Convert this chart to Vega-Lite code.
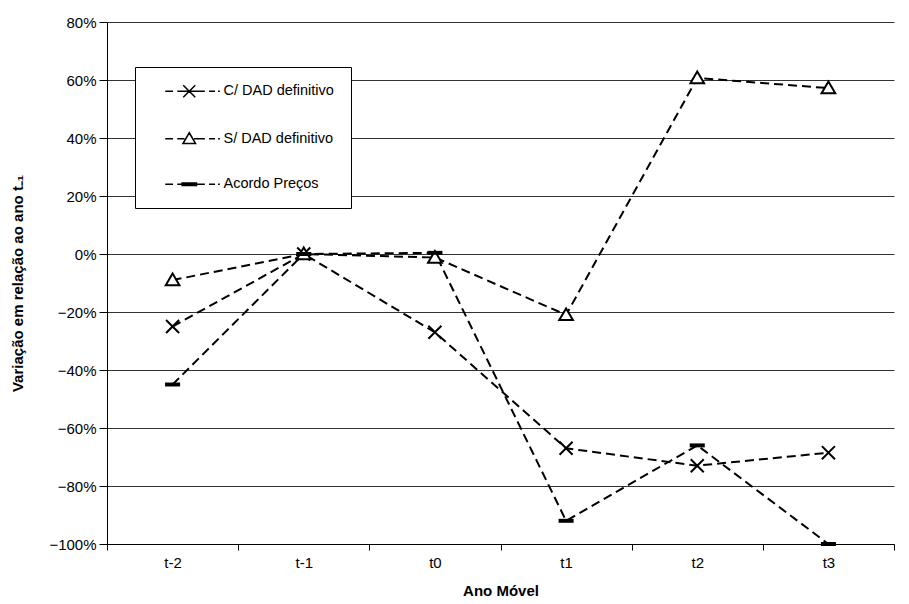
{
  "$schema": "https://vega.github.io/schema/vega-lite/v6.json",
  "width": 787,
  "height": 522,
  "autosize": {"type": "none"},
  "padding": {"left": 107, "top": 22, "right": 15, "bottom": 60},
  "background": "white",
  "config": {
    "view": {"stroke": null},
    "font": "Liberation Sans",
    "axis": {"labelFont": "Liberation Sans", "titleFont": "Liberation Sans", "labelColor": "black", "titleColor": "black", "domainColor": "black", "tickColor": "black"}
  },
  "data": {
    "values": [
      {"ano": "t-2", "serie": "C/ DAD definitivo", "valor": -0.25},
      {"ano": "t-1", "serie": "C/ DAD definitivo", "valor": 0.0},
      {"ano": "t0", "serie": "C/ DAD definitivo", "valor": -0.27},
      {"ano": "t1", "serie": "C/ DAD definitivo", "valor": -0.67},
      {"ano": "t2", "serie": "C/ DAD definitivo", "valor": -0.73},
      {"ano": "t3", "serie": "C/ DAD definitivo", "valor": -0.685},
      {"ano": "t-2", "serie": "S/ DAD definitivo", "valor": -0.09},
      {"ano": "t-1", "serie": "S/ DAD definitivo", "valor": 0.0},
      {"ano": "t0", "serie": "S/ DAD definitivo", "valor": -0.012},
      {"ano": "t1", "serie": "S/ DAD definitivo", "valor": -0.21},
      {"ano": "t2", "serie": "S/ DAD definitivo", "valor": 0.607},
      {"ano": "t3", "serie": "S/ DAD definitivo", "valor": 0.572},
      {"ano": "t-2", "serie": "Acordo Preços", "valor": -0.45},
      {"ano": "t-1", "serie": "Acordo Preços", "valor": 0.0},
      {"ano": "t0", "serie": "Acordo Preços", "valor": 0.004},
      {"ano": "t1", "serie": "Acordo Preços", "valor": -0.92},
      {"ano": "t2", "serie": "Acordo Preços", "valor": -0.66},
      {"ano": "t3", "serie": "Acordo Preços", "valor": -1.0}
    ]
  },
  "encoding": {
    "x": {
      "field": "ano", "type": "nominal", "sort": ["t-2", "t-1", "t0", "t1", "t2", "t3"],
      "scale": {"type": "band", "paddingInner": 0, "paddingOuter": 0},
      "axis": {"title": "Ano Móvel", "labelAngle": 0, "tickBand": "extent", "tickSize": 6, "labelPadding": 5, "labelFontSize": 15, "titleFontSize": 15, "titleFontWeight": "bold", "titlePadding": 13, "grid": false}
    },
    "y": {
      "field": "valor", "type": "quantitative",
      "scale": {"domain": [-1, 0.8], "nice": false, "zero": false},
      "axis": {"title": "Variação em relação ao ano t₋₁", "format": ".0%", "values": [-1, -0.8, -0.6, -0.4, -0.2, 0, 0.2, 0.4, 0.6, 0.8], "grid": true, "gridColor": "#333", "gridWidth": 1, "tickSize": 8, "labelPadding": 3, "labelFontSize": 15, "titleFontSize": 15, "titleFontWeight": "bold", "titlePadding": 23}
    }
  },
  "layer": [
    {
      "mark": {"type": "line", "color": "black", "strokeWidth": 2, "strokeDash": [9, 5]},
      "encoding": {"detail": {"field": "serie", "type": "nominal"}}
    },
    {
      "mark": {"type": "point", "color": "black", "stroke": "black", "fill": "white", "fillOpacity": 1, "strokeWidth": 2, "size": 170, "opacity": 1},
      "encoding": {
        "shape": {
          "field": "serie", "type": "nominal",
          "scale": {"domain": ["C/ DAD definitivo", "S/ DAD definitivo", "Acordo Preços"], "range": ["M-1,-1L1,1M-1,1L1,-1", "M0,-1L1.05,0.8H-1.05Z", "M-1,-0.15H1V0.15H-1Z"]},
          "legend": null
        }
      }
    },
    {
      "mark": {"type": "point", "color": "black", "filled": false, "opacity": 0, "size": 144},
      "encoding": {
        "shape": {
          "field": "serie", "type": "nominal",
          "scale": {"domain": ["C/ DAD definitivo", "S/ DAD definitivo", "Acordo Preços"], "range": [
            "M-4,0H-2.7M-2,0H2.6M3.3,0H4.3M4.8,0H5.1M-1,-1L1,1M-1,1L1,-1",
            "M-4,0H-2.7M-2,0H-0.8M0.8,0H2.6M3.3,0H4.3M4.8,0H5.1M0,-1L1.05,0.8H-1.05Z",
            "M-4,0H-2.7M-2,0H2.6M3.3,0H4.3M4.8,0H5.1M-1.2,-0.2H1.2V0.2H-1.2Z"
          ]},
          "legend": {
            "title": null, "orient": "none", "legendX": 28, "legendY": 45,
            "padding": 17, "rowPadding": 28.5, "fillColor": "white", "strokeColor": "black", "cornerRadius": 0,
            "labelFontSize": 14.5, "labelFont": "Liberation Sans", "labelColor": "black",
            "symbolSize": 144, "symbolOpacity": 1, "symbolStrokeColor": "black", "symbolFillColor": "white", "symbolStrokeWidth": 1.5,
            "symbolOffset": 30, "labelOffset": 27
          }
        }
      }
    }
  ],
  "resolve": {"scale": {"shape": "independent"}, "legend": {"shape": "independent"}}
}
